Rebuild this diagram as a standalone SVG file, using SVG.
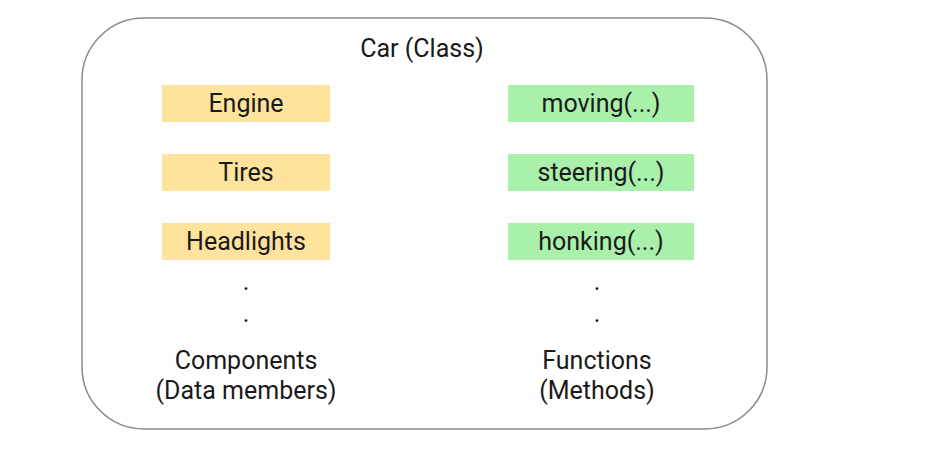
<svg xmlns="http://www.w3.org/2000/svg" width="929" height="449" viewBox="0 0 929 449">
<style>
text{font-family:Roboto,"Liberation Sans",sans-serif;font-size:25px;fill:#1a1a1a;text-anchor:middle}
.y{fill:#fde39c}
.g{fill:#a9f0aa}
</style>
<rect width="929" height="449" fill="#fff"/>
<g id="car">
<rect x="82" y="18" width="685" height="411" rx="62" ry="62" fill="#fff" stroke="#8a8a8a" stroke-width="1.5"/>
<text x="422" y="57">Car (Class)</text>
</g>
<g id="engine"><rect class="y" x="162" y="85" width="168" height="37"/><text x="246" y="112">Engine</text></g>
<g id="tires"><rect class="y" x="162" y="154" width="168" height="37"/><text x="246" y="181">Tires</text></g>
<g id="headlights"><rect class="y" x="162" y="223" width="168" height="37"/><text x="246" y="250">Headlights</text></g>
<g id="moving"><rect class="g" x="508" y="85" width="186" height="37"/><text x="601" y="112">moving(...)</text></g>
<g id="steering"><rect class="g" x="508" y="154" width="186" height="37"/><text x="601" y="181">steering(...)</text></g>
<g id="honking"><rect class="g" x="508" y="223" width="186" height="37"/><text x="601" y="250">honking(...)</text></g>
<g id="components">
<text x="246" y="290">.</text><text x="246" y="322">.</text>
<text x="246" y="369">Components</text>
<text x="246" y="399">(Data members)</text>
</g>
<g id="functions">
<text x="597" y="290">.</text><text x="597" y="322">.</text>
<text x="597" y="369">Functions</text>
<text x="597" y="399">(Methods)</text>
</g>
<g id="connectors"></g>
</svg>
